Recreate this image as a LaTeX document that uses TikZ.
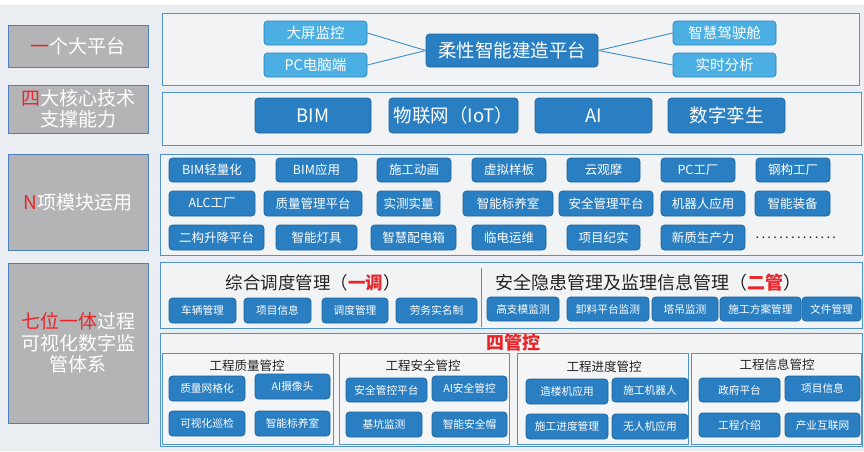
\documentclass[tikz,border=0pt]{standalone}
\usepackage{fontspec}
\setmainfont{Noto Sans CJK SC}
\definecolor{bg}{HTML}{EAEDF1}
\definecolor{pnl}{HTML}{4F92CC}
\definecolor{btnf}{HTML}{2A7FC2}
\definecolor{btnd}{HTML}{1D639E}
\definecolor{lbtn}{HTML}{4BAFE3}
\definecolor{lbtnd}{HTML}{2A82BE}
\definecolor{gry}{HTML}{B4B4B6}
\definecolor{gryd}{HTML}{4A80BC}
\definecolor{rd}{HTML}{E8262A}
\definecolor{txt}{HTML}{222222}
\definecolor{lnk}{HTML}{3D8CC8}
\newcommand\fs[1]{\fontsize{#1}{#1}\selectfont}
\newcommand\bx[7]{\node[#1,minimum width={#5-#3},minimum height={#6-#4}] (#2) at ({(#3+#5)/2},{(#4+#6)/2}) {#7};}
\newcommand\dotrow{\foreach \i in {1,...,14}{.\kern2.3pt}}
\tikzset{
  panel/.style={draw=pnl, line width=0.9pt, fill=white, fill opacity=0.35, inner sep=0pt},
  subbox/.style={draw=pnl, line width=0.8pt, fill=white, fill opacity=0.2, inner sep=0pt},
  lbl/.style={draw=gryd, line width=0.9pt, fill=gry, text=white, inner sep=0pt, align=center, font={\fs{19}\baselineskip=21.5pt}},
  btnbase/.style={draw=btnd, line width=0.7pt, fill=btnf, rounded corners=3.5pt, text=white, inner sep=0pt},
  btnA/.style={btnbase, font={\fs{12.5}}},
  btnB/.style={btnbase, font={\fs{10.7}}},
  btnC/.style={btnbase, font={\fs{18.5}}},
  lbtnS/.style={draw=lbtnd, line width=0.7pt, fill=lbtn, rounded corners=3.5pt, text=white, inner sep=0pt, font={\fs{14.5}}},
  ttl/.style={text=txt, inner sep=0pt},
  link/.style={draw=lnk, line width=0.9pt},
}
\begin{document}
\begin{tikzpicture}[x=1pt,y=-1pt]
\useasboundingbox (0,0) rectangle (864,451);
\fill[bg] (0,0) rectangle (864,451);
\fill[white] (0,0) rectangle (864,5);
% left labels
\bx{lbl}{L1}{8}{25}{148}{67}{{\color{rd}一}个大平台}
\bx{lbl}{L2}{8}{85}{148}{133}{{\color{rd}四}大核心技术\\支撑能力}
\bx{lbl}{L3}{8}{154}{148}{250}{{\color{rd}N}项模块运用}
\bx{lbl}{L4}{8}{263}{148}{423}{{\color{rd}七位一体}过程\\可视化数字监\\管体系}
% panels
\bx{panel}{P1}{162}{13}{859}{85}{}
\bx{panel}{P2}{162}{92}{861}{145}{}
\bx{panel}{P3}{160}{154}{862}{255}{}
\bx{panel}{P4}{160}{262}{862}{328}{}
\bx{panel}{P5}{160}{333}{862}{446}{}
% panel 1
\bx{lbtnS}{d1}{264}{21}{367}{45}{大屏监控}
\bx{lbtnS}{d2}{264}{53}{367}{77}{PC电脑端}
\bx{btnbase,font={\fs{18.5}}}{plat}{426}{34}{598}{67}{柔性智能建造平台}
\bx{lbtnS}{d3}{673}{21}{776}{45}{智慧驾驶舱}
\bx{lbtnS}{d4}{673}{53}{776}{77}{实时分析}
\draw[link] (d1.east) -- (plat.west);
\draw[link] (d2.east) -- (plat.west);
\draw[link] (plat.east) -- (d3.west);
\draw[link] (plat.east) -- (d4.west);
% panel 2
\bx{btnC}{t1}{255}{98}{371}{133}{BIM}
\bx{btnC}{t2}{389}{98}{518}{133}{物联网（IoT）}
\bx{btnC}{t3}{535}{98}{652}{133}{AI}
\bx{btnC}{t4}{668}{98}{785}{133}{数字孪生}
% panel 3 row 1
\bx{btnA}{a1}{169}{158}{255}{182}{BIM轻量化}
\bx{btnA}{a2}{276}{158}{357}{182}{BIM应用}
\bx{btnA}{a3}{377}{158}{451}{182}{施工动画}
\bx{btnA}{a4}{472}{158}{546}{182}{虚拟样板}
\bx{btnA}{a5}{567}{158}{640}{182}{云观摩}
\bx{btnA}{a6}{661}{158}{735}{182}{PC工厂}
\bx{btnA}{a7}{756}{158}{830}{182}{钢构工厂}
% row 2
\bx{btnA}{b1}{169}{191}{255}{216}{ALC工厂}
\bx{btnA}{b2}{264}{191}{362}{216}{质量管理平台}
\bx{btnA}{b3}{377}{191}{440}{216}{实测实量}
\bx{btnA}{b4}{463}{191}{553}{216}{智能标养室}
\bx{btnA}{b5}{559}{191}{653}{216}{安全管理平台}
\bx{btnA}{b6}{661}{191}{745}{216}{机器人应用}
\bx{btnA}{b7}{755}{191}{830}{216}{智能装备}
% row 3
\bx{btnA}{c1}{169}{225}{264}{250}{二构升降平台}
\bx{btnA}{c2}{276}{225}{357}{250}{智能灯具}
\bx{btnA}{c3}{371}{225}{456}{250}{智慧配电箱}
\bx{btnA}{c4}{472}{225}{546}{250}{临电运维}
\bx{btnA}{c5}{567}{225}{640}{250}{项目纪实}
\bx{btnA}{c6}{661}{225}{745}{250}{新质生产力}
\node[ttl,font={\fs{13}}] (c7) at (797,238) {\dotrow};
% panel 4a
\node[ttl,font={\fs{17.5}}] (h1) at (313,283) {综合调度管理（{\color{rd}\bfseries 一调}）};
\node[ttl,font={\fs{18}}] (h2) at (648,283) {安全隐患管理及监理信息管理（{\color{rd}\bfseries 二管}）};
\coordinate (s1) at (481,268);
\coordinate (s2) at (481,327);
\draw[draw=pnl, line width=0.8pt] (s1) -- (s2);
\bx{btnB}{e1}{169}{298}{236}{323}{车辆管理}
\bx{btnB}{e2}{244}{298}{311}{323}{项目信息}
\bx{btnB}{e3}{322}{298}{388}{323}{调度管理}
\bx{btnB}{e4}{396}{298}{477}{323}{劳务实名制}
\bx{btnB}{f1}{487}{297}{559}{321}{高支模监测}
\bx{btnB}{f2}{567}{297}{649}{321}{卸料平台监测}
\bx{btnB}{f3}{652}{297}{718}{321}{塔吊监测}
\bx{btnB}{f4}{720}{297}{801}{321}{施工方案管理}
\bx{btnB}{f5}{802}{297}{861}{321}{文件管理}
% panel 4b
\bx{subbox}{Q}{162}{353}{333}{444}{}
\bx{subbox}{S}{339}{353}{509}{444}{}
\bx{subbox}{J}{517}{353}{688}{444}{}
\bx{subbox}{X}{691}{353}{861}{444}{}
\node[ttl,text=rd,font={\fs{18}\bfseries}] (sg) at (513,343) {四管控};
\node[ttl,font={\fs{12.5}}] (qt) at (247,366) {工程质量管控};
\node[ttl,font={\fs{12.5}}] (st) at (423,366) {工程安全管控};
\node[ttl,font={\fs{12.5}}] (jt) at (604,367) {工程进度管控};
\node[ttl,font={\fs{12.5}}] (xt) at (777,365) {工程信息管控};
\bx{btnB}{q1}{169}{376}{245}{401}{质量网格化}
\bx{btnB}{q2}{255}{374}{330}{399}{AI摄像头}
\bx{btnB}{q3}{169}{411}{245}{436}{可视化巡检}
\bx{btnB}{q4}{255}{411}{330}{436}{智能标养室}
\bx{btnB}{s1b}{346}{378}{427}{402}{安全管控平台}
\bx{btnB}{s2b}{432}{376}{507}{401}{AI安全管控}
\bx{btnB}{s3b}{346}{412}{422}{437}{基坑监测}
\bx{btnB}{s4b}{432}{412}{507}{437}{智能安全帽}
\bx{btnB}{j1}{526}{379}{608}{404}{造楼机应用}
\bx{btnB}{j2}{612}{378}{688}{402}{施工机器人}
\bx{btnB}{j3}{526}{414}{608}{439}{施工进度管理}
\bx{btnB}{j4}{612}{414}{688}{439}{无人机应用}
\bx{btnB}{x1}{699}{378}{780}{402}{政府平台}
\bx{btnB}{x2}{785}{376}{860}{401}{项目信息}
\bx{btnB}{x3}{699}{413}{780}{437}{工程介绍}
\bx{btnB}{x4}{785}{413}{860}{437}{产业互联网}
\end{tikzpicture}
\end{document}
